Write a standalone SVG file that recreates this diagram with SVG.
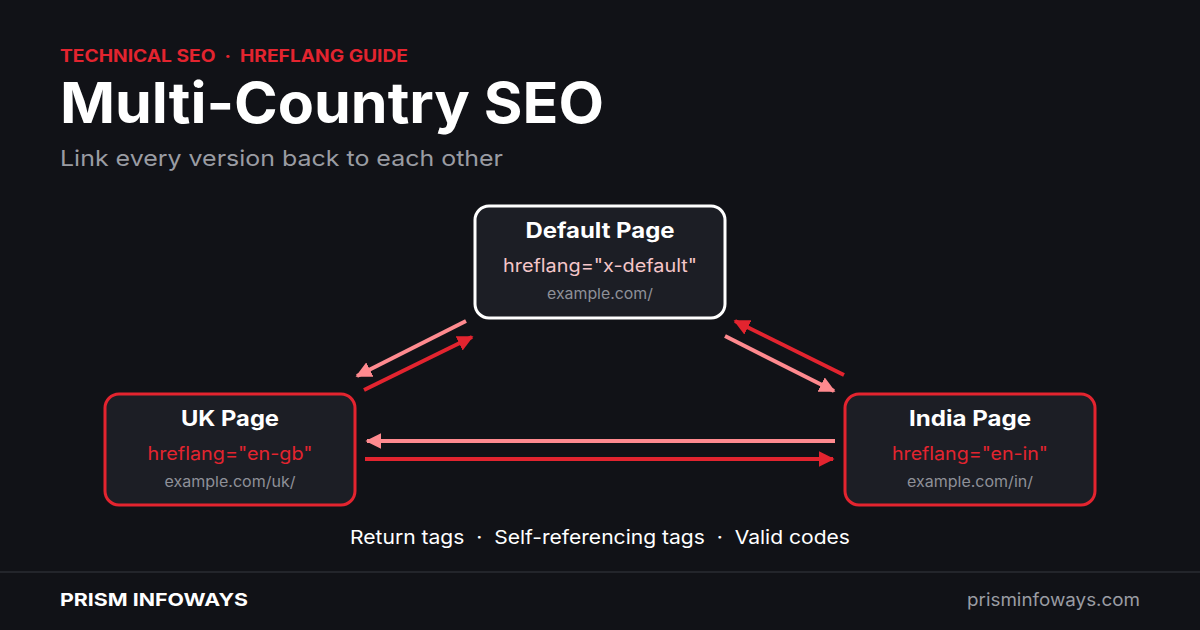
<svg xmlns="http://www.w3.org/2000/svg" width="1200" height="630" viewBox="0 0 1200 630">
<defs>
<style>
text{font-family:Inter,"Open Sans","Liberation Sans",sans-serif}
.pre{white-space:pre}
.box{fill:#1c1e25;stroke-width:3}
.t{fill:#fff;font-weight:700;font-size:21px;text-anchor:middle}
.h{font-size:18px;text-anchor:middle}
.u{fill:#8e9098;font-size:15px;text-anchor:middle}
.red{stroke:#e3242f}
.pink{stroke:#ff8a8f}
.c line{stroke-width:4}
</style>
<marker id="ar" viewBox="0 0 10 10" refX="9" refY="5" markerWidth="4" markerHeight="4" orient="auto" markerUnits="strokeWidth"><path d="M0,0 L10,5 L0,10 z" fill="#e3242f"/></marker>
<marker id="ap" viewBox="0 0 10 10" refX="9" refY="5" markerWidth="4" markerHeight="4" orient="auto" markerUnits="strokeWidth"><path d="M0,0 L10,5 L0,10 z" fill="#ff8a8f"/></marker>
</defs>
<rect width="1200" height="630" fill="#111217"/>
<text class="pre" x="60" y="62" fill="#e3242f" font-size="17" font-weight="700" textLength="348" lengthAdjust="spacingAndGlyphs">TECHNICAL SEO  ·  HREFLANG GUIDE</text>
<text x="60" y="123" fill="#fff" font-size="56" font-weight="700" textLength="544" lengthAdjust="spacingAndGlyphs">Multi-Country SEO</text>
<text x="60" y="166" fill="#9a9ca3" font-size="22" textLength="443" lengthAdjust="spacingAndGlyphs">Link every version back to each other</text>
<g class="c" id="connectors">
<line class="pink" x1="466" y1="321" x2="357" y2="376" marker-end="url(#ap)"/>
<line class="red" x1="364" y1="390" x2="472" y2="337" marker-end="url(#ar)"/>
<line class="red" x1="844" y1="375" x2="735" y2="321" marker-end="url(#ar)"/>
<line class="pink" x1="725" y1="336" x2="834" y2="391" marker-end="url(#ap)"/>
<line class="pink" x1="835" y1="441" x2="367" y2="441" marker-end="url(#ap)"/>
<line class="red" x1="365" y1="459" x2="833" y2="459" marker-end="url(#ar)"/>
</g>
<g id="default">
<rect class="box" x="475" y="206" width="250" height="112" rx="14" stroke="#fff"/>
<text class="t" x="600" y="238" textLength="149" lengthAdjust="spacingAndGlyphs">Default Page</text>
<text class="h" x="600" y="272" fill="#f5c6c9" textLength="194" lengthAdjust="spacingAndGlyphs">hreflang="x-default"</text>
<text class="u" x="600" y="299" textLength="106" lengthAdjust="spacingAndGlyphs">example.com/</text>
</g>
<g id="uk">
<rect class="box" x="105" y="394" width="250" height="111" rx="14" stroke="#e3242f"/>
<text class="t" x="230" y="426" textLength="98" lengthAdjust="spacingAndGlyphs">UK Page</text>
<text class="h" x="230" y="460" fill="#e3242f" textLength="165" lengthAdjust="spacingAndGlyphs">hreflang="en-gb"</text>
<text class="u" x="230" y="487" textLength="131" lengthAdjust="spacingAndGlyphs">example.com/uk/</text>
</g>
<g id="india">
<rect class="box" x="845" y="394" width="250" height="111" rx="14" stroke="#e3242f"/>
<text class="t" x="970" y="426" textLength="122" lengthAdjust="spacingAndGlyphs">India Page</text>
<text class="h" x="970" y="460" fill="#e3242f" textLength="156" lengthAdjust="spacingAndGlyphs">hreflang="en-in"</text>
<text class="u" x="970" y="487" textLength="126" lengthAdjust="spacingAndGlyphs">example.com/in/</text>
</g>
<text class="pre" x="600" y="544" fill="#fff" font-size="19" text-anchor="middle" textLength="500" lengthAdjust="spacingAndGlyphs">Return tags  ·  Self-referencing tags  ·  Valid codes</text>
<line x1="0" y1="572" x2="1200" y2="572" stroke="#2a2c33" stroke-width="1.5"/>
<text x="60" y="606" fill="#fff" font-size="18" font-weight="700" textLength="188" lengthAdjust="spacingAndGlyphs">PRISM INFOWAYS</text>
<text x="1140" y="606" fill="#9a9ca3" font-size="18" text-anchor="end" textLength="173" lengthAdjust="spacingAndGlyphs">prisminfoways.com</text>
</svg>
